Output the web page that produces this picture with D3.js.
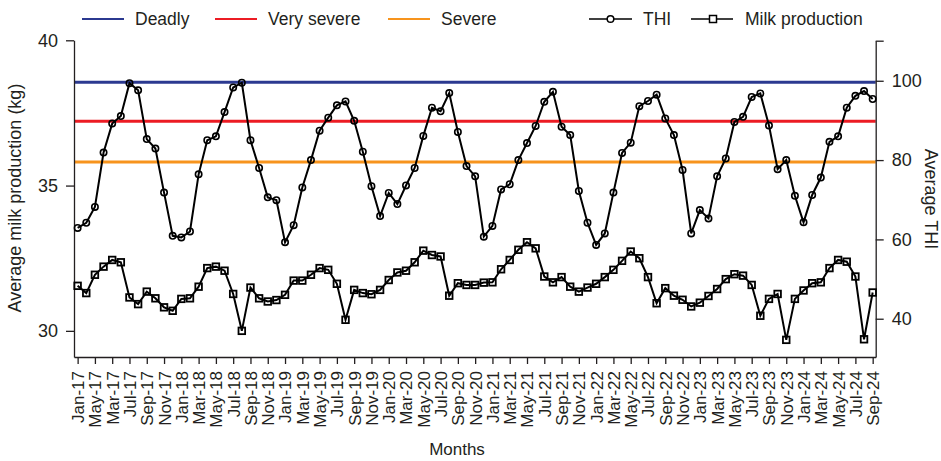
<!DOCTYPE html>
<html lang="en">
<head>
<meta charset="UTF-8">
<title>THI and milk production</title>
<script src="https://cdn.jsdelivr.net/npm/d3@7"></script>
<style>
    body{ margin:0; background:#fff; }
    svg{ font-family:"Liberation Sans", Arial, sans-serif; }
    .axis path, .axis line{ stroke:#231f20; stroke-width:1.3; }
    .axis text{ fill:#231f20; }
</style>
</head>
<body>
<svg id="chart" width="941" height="461"></svg>
<script>
    // tick labels as printed on the figure (every 2nd month)
    let tickLabels = ["Jan-17","May-17","Mar-17","Jul-17","Sep-17","Nov-17",
        "Jan-18","Mar-18","May-18","Jul-18","Sep-18","Nov-18",
        "Jan-19","Mar-19","May-19","Jul-19","Sep-19","Nov-19",
        "Jan-20","Mar-20","May-20","Jul-20","Sep-20","Nov-20",
        "Jan-21","Mar-21","May-21","Jul-21","Sep-21","Nov-21",
        "Jan-22","Mar-22","May-22","Jul-22","Sep-22","Nov-22",
        "Jan-23","Mar-23","May-23","Jul-23","Sep-23","Nov-23",
        "Jan-24","Mar-24","May-24","Jul-24","Sep-24"]

    // monthly THI, Jan-17 .. Sep-24
    let thi = [62.9, 64.2, 68.2, 81.9, 89.2, 91.1, 99.4, 97.6, 85.3, 82.9, 71.8, 60.9,
        60.5, 62.0, 76.4, 85.0, 86.0, 92.1, 98.3, 99.5, 85.0, 78.0, 70.6, 69.9,
        59.3, 63.6, 73.1, 80.0, 87.4, 90.7, 93.8, 94.8, 89.9, 82.1, 73.4, 65.9,
        71.7, 68.9, 73.6, 78.0, 86.1, 93.2, 92.3, 96.9, 87.1, 78.5, 75.9, 60.7,
        63.4, 72.6, 73.9, 80.0, 84.3, 88.6, 94.7, 97.2, 88.4, 86.3, 72.2, 64.2,
        58.6, 61.5, 71.8, 81.8, 84.4, 93.6, 94.9, 96.5, 90.5, 86.3, 77.5, 61.5,
        67.4, 65.3, 75.9, 80.4, 89.6, 90.9, 95.9, 96.8, 88.7, 77.7, 80.0, 71.0,
        64.3, 71.2, 75.6, 84.6, 86.0, 93.2, 96.2, 97.4, 95.4]

    // monthly average milk production (kg)
    let milk = [31.55, 31.30, 31.93, 32.21, 32.44, 32.36, 31.15, 30.92, 31.35, 31.12, 30.81, 30.69,
        31.10, 31.12, 31.52, 32.16, 32.21, 32.07, 31.27, 30.00, 31.49, 31.12, 31.01, 31.06,
        31.24, 31.73, 31.73, 31.93, 32.16, 32.10, 31.62, 30.38, 31.41, 31.30, 31.26, 31.41,
        31.75, 32.01, 32.07, 32.36, 32.76, 32.61, 32.56, 31.21, 31.64, 31.58, 31.58, 31.66,
        31.67, 32.12, 32.44, 32.79, 33.05, 32.84, 31.87, 31.67, 31.85, 31.52, 31.35, 31.49,
        31.62, 31.85, 32.10, 32.41, 32.73, 32.50, 31.85, 30.95, 31.47, 31.21, 31.07, 30.84,
        30.97, 31.20, 31.44, 31.78, 31.95, 31.90, 31.58, 30.52, 31.10, 31.27, 29.69, 31.10,
        31.39, 31.64, 31.67, 32.16, 32.44, 32.38, 31.87, 29.71, 31.32]

    // THI stress thresholds
    let thresholdNames = ["Deadly", "Very severe", "Severe"]
    let thresholdValues = [99.6, 89.8, 79.5]
    let thresholdColors = ["#2b3990", "#ec1c24", "#f7941d"]

    let ink = "#231f20"
    let svg = d3.select("#chart")

    let x = d3.scaleLinear().domain([-0.42, 92.35]).range([74, 875.7])
    let yMilk = d3.scaleLinear().domain([29.1, 40]).range([357, 40.3])
    let yThi = d3.scaleLinear().domain([30.35, 110.1]).range([357, 40.7])

    // threshold lines
    svg.append("g").selectAll("line")
        .data(thresholdValues)
        .join("line")
        .attr("x1", x.range()[0]).attr("x2", x.range()[1])
        .attr("y1", d => yThi(d)).attr("y2", d => yThi(d))
        .attr("stroke", (d, i) => thresholdColors[i])
        .attr("stroke-width", 3)

    // axes
    let xAxis = svg.append("g").attr("class", "axis")
        .attr("transform", "translate(0,357)")
        .call(d3.axisBottom(x)
            .tickValues(d3.range(0, 93, 2))
            .tickFormat(d => tickLabels[d / 2])
            .tickSize(7).tickSizeOuter(0))
    xAxis.selectAll("text")
        .attr("transform", "rotate(-90)")
        .attr("text-anchor", "end")
        .attr("x", -14).attr("y", 0).attr("dy", "0.35em")
        .style("font-size", "17px")

    svg.append("g").attr("class", "axis")
        .attr("transform", "translate(74,0)")
        .call(d3.axisLeft(yMilk).tickValues([30, 35, 40]).tickSize(8).tickSizeOuter(0).tickPadding(8))
        .selectAll("text").style("font-size", "18px")

    svg.append("g").attr("class", "axis")
        .attr("transform", "translate(875.7,0)")
        .call(d3.axisRight(yThi).tickValues([40, 60, 80, 100, 110.1])
            .tickFormat(d => d > 105 ? "" : d)
            .tickSize(8).tickSizeOuter(0).tickPadding(8))
        .selectAll("text").style("font-size", "18px")

    // axis titles
    svg.append("text")
        .attr("transform", "translate(21,198) rotate(-90)")
        .attr("text-anchor", "middle")
        .style("font-size", "18px").attr("fill", ink)
        .text("Average milk production (kg)")
    svg.append("text")
        .attr("transform", "translate(925,199) rotate(90)")
        .attr("text-anchor", "middle")
        .style("font-size", "18px").attr("fill", ink)
        .text("Average THI")
    svg.append("text")
        .attr("x", 457).attr("y", 455)
        .attr("text-anchor", "middle")
        .style("font-size", "17px").attr("fill", ink)
        .text("Months")

    // series
    let thiLine = d3.line().x((d, i) => x(i)).y(d => yThi(d))
    let milkLine = d3.line().x((d, i) => x(i)).y(d => yMilk(d))

    svg.append("path").datum(thi)
        .attr("d", thiLine).attr("fill", "none")
        .attr("stroke", "#000").attr("stroke-width", 2)
    svg.append("g").selectAll("circle")
        .data(thi).join("circle")
        .attr("cx", (d, i) => x(i)).attr("cy", d => yThi(d))
        .attr("r", 3.2).attr("fill", "none")
        .attr("stroke", "#000").attr("stroke-width", 1.6)

    svg.append("path").datum(milk)
        .attr("d", milkLine).attr("fill", "none")
        .attr("stroke", "#000").attr("stroke-width", 2)
    svg.append("g").selectAll("rect")
        .data(milk).join("rect")
        .attr("x", (d, i) => x(i) - 3.3).attr("y", d => yMilk(d) - 3.3)
        .attr("width", 6.6).attr("height", 6.6).attr("fill", "none")
        .attr("stroke", "#000").attr("stroke-width", 1.8)

    // legend
    let legend = svg.append("g").style("font-size", "17.5px")
    let legX = [82, 215, 388]
    thresholdNames.forEach((name, i) => {
        legend.append("line")
            .attr("x1", legX[i]).attr("x2", legX[i] + 42)
            .attr("y1", 19).attr("y2", 19)
            .attr("stroke", thresholdColors[i]).attr("stroke-width", 2)
        legend.append("text")
            .attr("x", legX[i] + 53).attr("y", 19).attr("dy", "0.35em")
            .attr("fill", ink).text(name)
    })
    // THI entry
    legend.append("line").attr("x1", 589).attr("x2", 632).attr("y1", 19).attr("y2", 19)
        .attr("stroke", "#000").attr("stroke-width", 1.5)
    legend.append("circle").attr("cx", 610.5).attr("cy", 19).attr("r", 3.3)
        .attr("fill", "#fff").attr("stroke", "#000").attr("stroke-width", 1.5)
    legend.append("text").attr("x", 643).attr("y", 19).attr("dy", "0.35em")
        .attr("fill", ink).text("THI")
    // milk entry
    legend.append("line").attr("x1", 691).attr("x2", 733).attr("y1", 19).attr("y2", 19)
        .attr("stroke", "#000").attr("stroke-width", 1.5)
    legend.append("rect").attr("x", 709.5).attr("y", 15.5).attr("width", 7).attr("height", 7)
        .attr("fill", "#fff").attr("stroke", "#000").attr("stroke-width", 1.5)
    legend.append("text").attr("x", 745).attr("y", 19).attr("dy", "0.35em")
        .attr("fill", ink).text("Milk production")
</script>
</body>
</html>
